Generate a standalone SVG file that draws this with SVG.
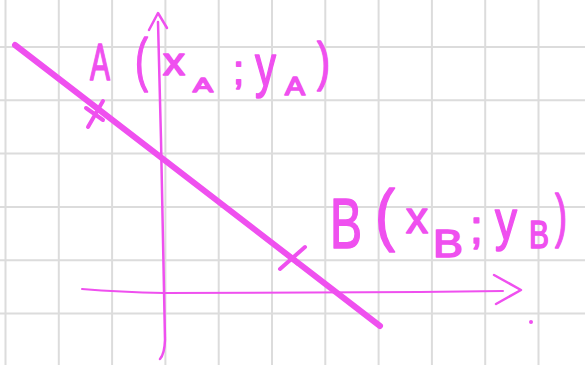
<svg xmlns="http://www.w3.org/2000/svg" width="585" height="365" viewBox="0 0 585 365">
<style>
.g{stroke:#dcdcdc;stroke-width:2;fill:none}
.ink{stroke:#ef50ef;fill:none;stroke-linecap:round;stroke-linejoin:round}
.t{fill:#ef50ef;stroke:#ef50ef;stroke-width:1.6;stroke-linejoin:round;font-family:"Liberation Sans","DejaVu Sans",sans-serif}
</style>
<rect width="585" height="365" fill="#ffffff"/>
<g id="grid" class="g">
<path d="M5.5,0V365M58.8,0V365M112.1,0V365M165.4,0V365M218.7,0V365M272,0V365M325.3,0V365M378.6,0V365M431.9,0V365M485.2,0V365M538.5,0V365"/>
<path d="M0,47H585M0,100.3H585M0,153.6H585M0,206.9H585M0,260.2H585M0,313.5H585"/>
</g>
<g id="axes">
<path class="ink" stroke-width="2.5" d="M158,22 L161,140 L164,290 L165,340 Q164.5,354 160,359"/>
<path class="ink" stroke-width="2.5" d="M149,30 L158,13 L167,28"/>
<path class="ink" stroke="#f49cf4" stroke-width="2" d="M82,289 Q120,292 164,293 L420,292 L503,291"/>
<path class="ink" stroke-width="2.5" d="M494,275 L521,290 L496,304"/>
<circle cx="531" cy="322" r="2" fill="#ef50ef"/>
</g>
<g id="line">
<path class="ink" stroke-width="6" d="M15,45 L380,326"/>
</g>
<g id="pointA">
<path class="ink" stroke-width="4" d="M88,127 L103,101 M86,108 L103,120"/>
<g class="t">
<text x="90" y="80" font-size="52" textLength="20" lengthAdjust="spacingAndGlyphs">A</text>
<text x="135" y="80" font-size="60" textLength="13" lengthAdjust="spacingAndGlyphs">(</text>
<text x="163" y="75" font-size="38" textLength="22" lengthAdjust="spacingAndGlyphs">x</text>
<text x="193" y="92" font-size="21" textLength="20" lengthAdjust="spacingAndGlyphs">A</text>
<text x="233" y="84" font-size="40">;</text>
<text x="255" y="86" font-size="59" textLength="21" lengthAdjust="spacingAndGlyphs">y</text>
<text x="285" y="95" font-size="25" textLength="20" lengthAdjust="spacingAndGlyphs">A</text>
<text x="317" y="80" font-size="53" textLength="13" lengthAdjust="spacingAndGlyphs">)</text>
</g>
</g>
<g id="pointB">
<path class="ink" stroke-width="4" d="M280,269 L305,247 M282,251 L298,264"/>
<g class="t">
<text x="330" y="248" font-size="70" textLength="32" lengthAdjust="spacingAndGlyphs">B</text>
<text x="375" y="238" font-size="68" textLength="20" lengthAdjust="spacingAndGlyphs">(</text>
<text x="406" y="233" font-size="44" textLength="22" lengthAdjust="spacingAndGlyphs">x</text>
<text x="433" y="257" font-size="38" textLength="30" lengthAdjust="spacingAndGlyphs">B</text>
<text x="470" y="243" font-size="46">;</text>
<text x="495" y="239" font-size="55" textLength="22" lengthAdjust="spacingAndGlyphs">y</text>
<text x="529" y="248" font-size="39" textLength="20" lengthAdjust="spacingAndGlyphs">B</text>
<text x="555" y="236" font-size="60" textLength="12" lengthAdjust="spacingAndGlyphs">)</text>
</g>
</g>
</svg>
